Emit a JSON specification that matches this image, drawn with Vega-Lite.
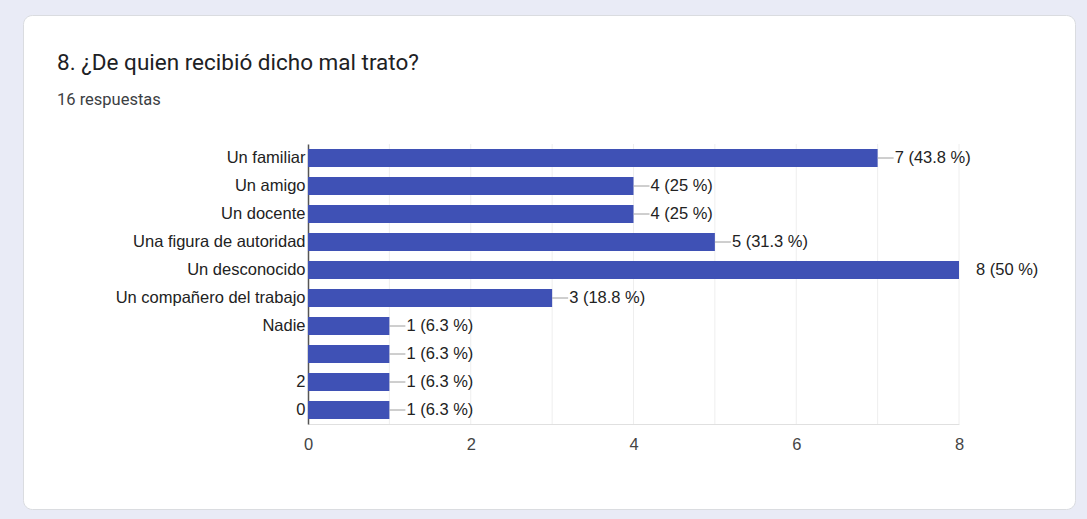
{
  "$schema": "https://vega.github.io/schema/vega-lite/v6.json",
  "width": 1052,
  "height": 494,
  "autosize": {"type": "none"},
  "padding": {"left": 23, "top": 15, "right": 12, "bottom": 10},
  "background": "#e9ebf6",
  "view": {"fill": "white", "stroke": "#dadce0", "cornerRadius": 9},
  "title": {
    "text": "8. ¿De quien recibió dicho mal trato?",
    "subtitle": "16 respuestas",
    "anchor": "start",
    "frame": "group",
    "orient": "top",
    "offset": 0,
    "dx": 34,
    "dy": 93,
    "font": "Roboto",
    "fontSize": 22.5,
    "fontWeight": "normal",
    "color": "#202124",
    "subtitleFont": "Roboto",
    "subtitleFontSize": 16.5,
    "subtitleColor": "#3c4043",
    "subtitlePadding": 17
  },
  "datasets": {
    "bars": [
      {"name": "Un familiar", "count": 7, "label": "7 (43.8 %)"},
      {"name": "Un amigo", "count": 4, "label": "4 (25 %)"},
      {"name": "Un docente", "count": 4, "label": "4 (25 %)"},
      {"name": "Una figura de autoridad", "count": 5, "label": "5 (31.3 %)"},
      {"name": "Un desconocido", "count": 8, "label": "8 (50 %)"},
      {"name": "Un compañero del trabajo", "count": 3, "label": "3 (18.8 %)"},
      {"name": "Nadie", "count": 1, "label": "1 (6.3 %)"},
      {"name": " ", "count": 1, "label": "1 (6.3 %)"},
      {"name": "2", "count": 1, "label": "1 (6.3 %)"},
      {"name": "0", "count": 1, "label": "1 (6.3 %)"}
    ],
    "grid": [
      {"g": 1}, {"g": 2}, {"g": 3}, {"g": 4}, {"g": 5}, {"g": 6}, {"g": 7}, {"g": 8}
    ]
  },
  "layer": [
    {
      "data": {"name": "grid"},
      "mark": {"type": "rule", "color": "#eeeeee", "strokeWidth": 1, "yOffset": -14, "y2Offset": 14},
      "encoding": {
        "x": {"field": "g", "type": "quantitative"},
        "y": {"datum": "Un familiar", "type": "nominal"},
        "y2": {"datum": "0"}
      }
    },
    {
      "data": {"name": "bars"},
      "layer": [
        {
          "mark": {"type": "bar", "color": "#3f51b5", "clip": false}
        },
        {
          "transform": [{"filter": "datum.count < 8"}],
          "mark": {"type": "rule", "color": "#9e9e9e", "strokeWidth": 1, "x2Offset": 16},
          "encoding": {"x2": {"field": "count"}}
        },
        {
          "mark": {"type": "text", "align": "left", "baseline": "middle", "dx": 17, "font": "Liberation Sans", "fontSize": 16.5, "color": "#222222"},
          "encoding": {"text": {"field": "label"}}
        }
      ],
      "encoding": {
        "y": {"field": "name", "type": "nominal", "sort": null},
        "x": {"field": "count", "type": "quantitative"}
      }
    }
  ],
  "encoding": {
    "y": {
      "type": "nominal",
      "scale": {
        "domain": ["Un familiar", "Un amigo", "Un docente", "Una figura de autoridad", "Un desconocido", "Un compañero del trabajo", "Nadie", " ", "2", "0"],
        "range": [129, 409],
        "paddingInner": 0.36,
        "paddingOuter": 0.18
      },
      "axis": {
        "title": null,
        "offset": -285,
        "ticks": false,
        "grid": false,
        "domainColor": "#555555",
        "domainWidth": 1.5,
        "labelFont": "Liberation Sans",
        "labelFontSize": 16.5,
        "labelColor": "#222222",
        "labelPadding": 3,
        "labelLimit": 400
      }
    },
    "x": {
      "type": "quantitative",
      "scale": {"domain": [0, 8], "range": [285, 936], "nice": false},
      "axis": {
        "title": null,
        "offset": -85,
        "values": [0, 2, 4, 6, 8],
        "ticks": false,
        "grid": false,
        "domainColor": "#e0e0e0",
        "labelFont": "Liberation Sans",
        "labelFontSize": 16.5,
        "labelColor": "#444444",
        "labelPadding": 12,
        "labelFlush": false
      }
    }
  }
}
